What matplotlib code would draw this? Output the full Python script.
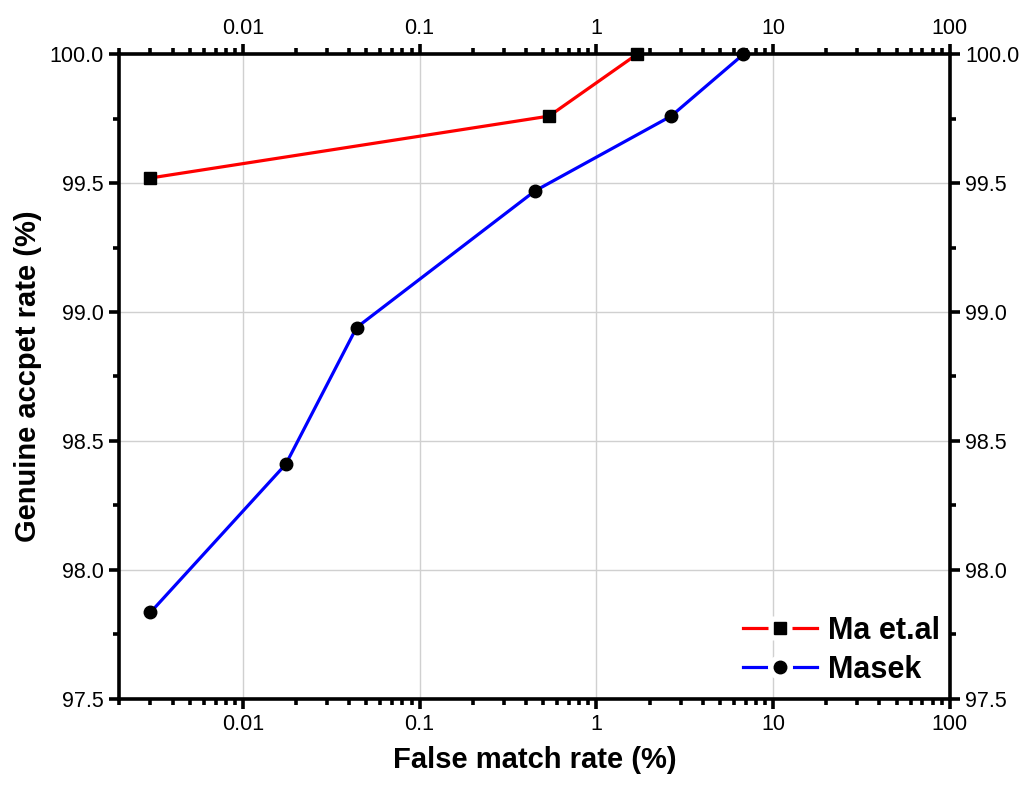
import matplotlib
matplotlib.use("Agg")
import matplotlib.pyplot as plt
from matplotlib.lines import Line2D
from matplotlib.legend_handler import HandlerTuple
from matplotlib.ticker import LogLocator, FixedLocator, MultipleLocator, FuncFormatter

plt.rcParams['font.family'] = ['Liberation Sans', 'DejaVu Sans']

# data
ma_fmr = [0.003, 0.54, 1.7]
ma_gar = [99.52, 99.76, 100.0]
masek_fmr = [0.003, 0.0175, 0.044, 0.45, 2.65, 6.8]
masek_gar = [97.835, 98.41, 98.94, 99.47, 99.76, 100.0]

x_major = [0.01, 0.1, 1, 10, 100]
x_labels = ['0.01', '0.1', '1', '10', '100']

fig = plt.figure(figsize=(10.29, 7.86), dpi=100)
ax = fig.add_axes([0.116, 0.111, 0.807, 0.820])

lw = 2.3
ax.plot(ma_fmr, ma_gar, color='red', lw=lw, marker='s', ms=8,
        mfc='black', mec='black', clip_on=False, zorder=3)
ax.plot(masek_fmr, masek_gar, color='blue', lw=lw, marker='o', ms=9,
        mfc='black', mec='black', clip_on=False, zorder=3)

ax.set_xscale('log')
ax.set_xlim(0.002, 100)
ax.set_ylim(97.5, 100.0)
ax.xaxis.set_major_locator(FixedLocator(x_major))
ax.xaxis.set_major_formatter(FuncFormatter(lambda v, p: x_labels[x_major.index(v)] if v in x_major else ''))
ax.xaxis.set_minor_locator(LogLocator(base=10, subs=range(2, 10), numticks=20))
ax.xaxis.set_minor_formatter(FuncFormatter(lambda v, p: ''))
ax.yaxis.set_major_locator(MultipleLocator(0.5))
ax.yaxis.set_minor_locator(MultipleLocator(0.25))
ax.yaxis.set_major_formatter(FuncFormatter(lambda v, p: f'{v:.1f}'))

ax.grid(True, which='major', color='#d0d0d0', lw=1)
ax.set_axisbelow(True)

for s in ax.spines.values():
    s.set_linewidth(2.6)
ax.tick_params(which='both', direction='out', top=True, right=True,
               labeltop=True, labelright=True, width=2.6, labelsize=15.5, pad=4)
ax.tick_params(which='major', length=7)
ax.tick_params(which='minor', length=4)

ax.set_xlabel('False match rate (%)', fontsize=21, fontweight='bold', labelpad=8)
ax.set_ylabel('Genuine accpet rate (%)', fontsize=21, fontweight='bold', labelpad=6)


# legend handles: line - gap - marker - gap - line
def legend_handle(color, marker, ms):
    line = Line2D([], [], color=color, lw=lw)
    gap = Line2D([], [], ls='none', marker=marker, ms=ms + 9, mfc='white', mec='none')
    mark = Line2D([], [], ls='none', marker=marker, ms=ms, mfc='black', mec='black')
    return (line, gap, mark)


ax.legend([legend_handle('red', 's', 8), legend_handle('blue', 'o', 9)],
          ['Ma et.al', 'Masek'], loc='lower right', bbox_to_anchor=(1.005, 0.0),
          frameon=False, prop={'weight': 'bold', 'size': 22}, handlelength=2.45,
          handler_map={tuple: HandlerTuple(ndivide=1, pad=0)},
          borderpad=0.1, borderaxespad=0.35, labelspacing=0.3, handletextpad=0.35)

fig.savefig('out.png', dpi=100)
